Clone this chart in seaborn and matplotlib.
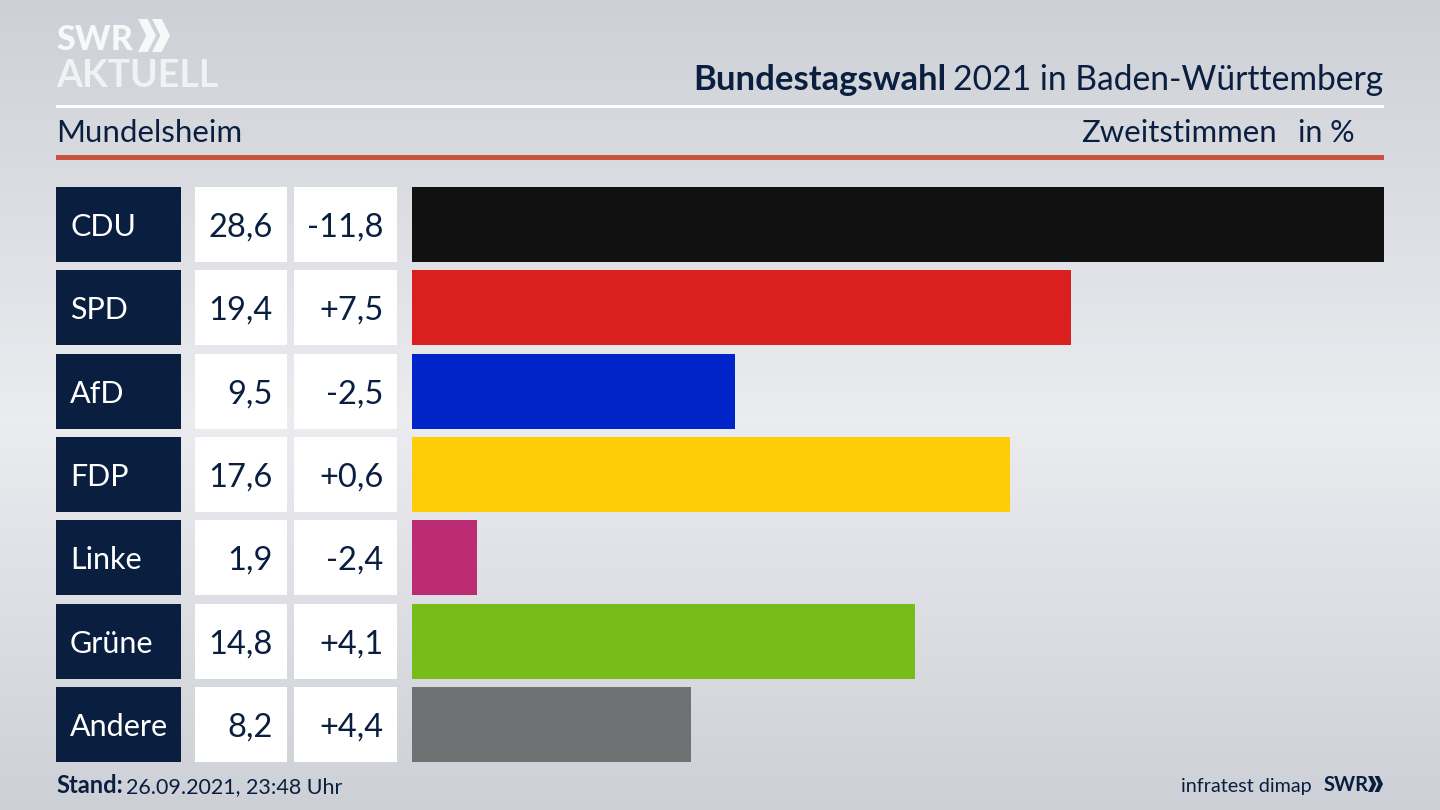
import matplotlib
matplotlib.use('Agg')
import matplotlib.pyplot as plt
import seaborn as sns
import numpy as np
import pandas as pd
from matplotlib.patches import Rectangle, Polygon

parties = ['CDU', 'SPD', 'AfD', 'FDP', 'Linke', 'Grüne', 'Andere']
shares = [28.6, 19.4, 9.5, 17.6, 1.9, 14.8, 8.2]
changes = [-11.8, 7.5, -2.5, 0.6, -2.4, 4.1, 4.4]
party_colors = ['#111112', '#d9201f', '#0024c8', '#ffcc08', '#bc2c75', '#78bc1a', '#707173']

NAVY = '#0a1f40'
W, H = 1440, 810

sns.set_theme(style='white')
plt.rcParams['font.family'] = ['Lato', 'DejaVu Sans']

fig = plt.figure(figsize=(14.4, 8.1), dpi=100)


# Achsen-Rechteck aus Pixelkoordinaten (y von oben)
def px_axes(left, top, right, bottom, **kw):
    return fig.add_axes([left / W, 1 - bottom / H, (right - left) / W, (bottom - top) / H], **kw)


# Hintergrund: vertikaler Verlauf
bg = px_axes(0, 0, W, H, zorder=0)
grad = np.interp(np.arange(H), [0, 420, 810], [0, 1, 0]).reshape(-1, 1)
cmap = matplotlib.colors.LinearSegmentedColormap.from_list('bg', ['#cdd0d6', '#ebecf0'])
bg.imshow(grad, cmap=cmap, aspect='auto', extent=[0, W, H, 0])
bg.axis('off')

# Balken
df = pd.DataFrame({'party': parties, 'share': shares})
row = (724.5 - 224.5) / 6
ax = px_axes(412, 224.5 - row / 2, 1384, 724.5 + row / 2, zorder=2)
sns.barplot(data=df, y='party', x='share', hue='party', palette=party_colors,
            width=0.9, saturation=1, legend=False, linewidth=0, ax=ax)
ax.set_xlim(0, max(shares))
ax.patch.set_alpha(0)
ax.axis('off')

# Overlay fuer Tabelle, Linien und Texte
ov = px_axes(0, 0, W, H, zorder=3)
ov.set_xlim(0, W)
ov.set_ylim(H, 0)
ov.patch.set_alpha(0)
ov.axis('off')

for i, party in enumerate(parties):
    top = 187 + i * row
    mid = top + 37.5
    ov.add_patch(Rectangle((56, top), 125, 75, fc=NAVY, ec='none'))
    ov.add_patch(Rectangle((195, top), 92, 75, fc='white', ec='none'))
    ov.add_patch(Rectangle((294, top), 103, 75, fc='white', ec='none'))
    ov.text(70, mid + 11.5, party, color='white', fontsize=22, va='baseline')
    ov.text(273, mid + 12, f'{shares[i]:.1f}'.replace('.', ','), color=NAVY, fontsize=23.5,
            ha='right', va='baseline')
    ov.text(383.5, mid + 12, f'{changes[i]:+.1f}'.replace('.', ','), color=NAVY, fontsize=23.5,
            ha='right', va='baseline')

# Linien
ov.add_patch(Rectangle((56, 104.5), 1328, 3, fc='white', ec='none'))
ov.add_patch(Rectangle((56, 155), 1328, 5, fc='#c9533f', ec='none'))

# Kopf
ov.text(693, 90, 'Bundestagswahl', color=NAVY, fontsize=24.9, fontweight='bold', va='baseline')
ov.text(1383, 90, '2021 in Baden-Württemberg', color=NAVY, fontsize=24.25, ha='right', va='baseline')
ov.text(56, 142.5, 'Mundelsheim', color=NAVY, fontsize=22.5, va='baseline')
ov.text(1277, 142.5, 'Zweitstimmen', color=NAVY, fontsize=22.4, ha='right', va='baseline')
ov.text(1355, 142.5, 'in %', color=NAVY, fontsize=22, ha='right', va='baseline')

# Fuss
ov.text(56, 793, 'Stand:', color=NAVY, fontsize=17, fontweight='bold', va='baseline')
ov.text(126, 793, '26.09.2021, 23:48 Uhr', color=NAVY, fontsize=15.5, va='baseline')
ov.text(1312, 792, 'infratest dimap', color=NAVY, fontsize=14.2, ha='right', va='baseline')
ov.text(1324, 791, 'SWR', color=NAVY, fontsize=14.5, fontweight='bold', va='baseline')


# Doppelpfeil des SWR-Logos
def chevrons(x, y, w, h, color):
    s = w * 0.56
    t = w * 0.30
    for off in (0, w - s):
        ov.add_patch(Polygon([(x + off, y), (x + off + t, y), (x + off + s, y + h / 2),
                              (x + off + t, y + h), (x + off, y + h), (x + off + s - t, y + h / 2)],
                             closed=True, fc=color, ec='none'))


# Logo
ov.text(56, 50, 'SWR', color='#f7f8f9', fontsize=24.5, fontweight='black', va='baseline')
chevrons(138, 19, 32, 33, '#f7f8f9')
ov.text(56, 87, 'AKTUELL', color='#f1f2f4', fontsize=27, fontweight='bold', va='baseline')
chevrons(1368, 776, 15, 16, NAVY)

fig.savefig('out.png', dpi=100)
